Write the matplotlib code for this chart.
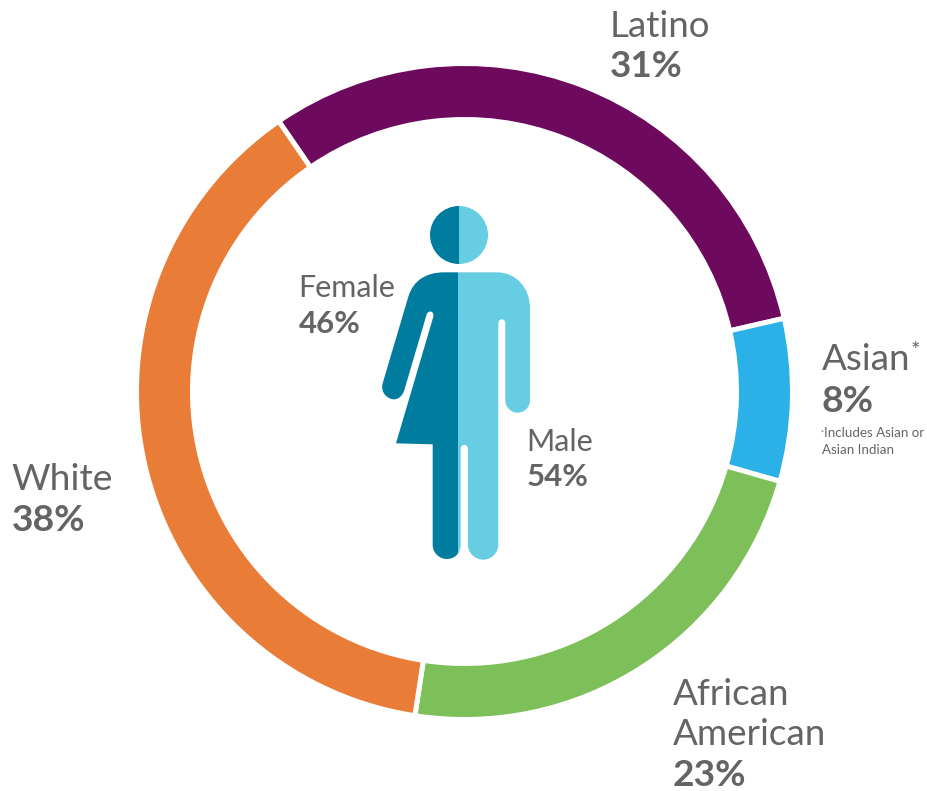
import matplotlib.pyplot as plt
from matplotlib.patches import PathPatch, Wedge
from matplotlib.path import Path

plt.rcParams['font.family'] = ['Lato', 'DejaVu Sans']

race_labels = ['Latino', 'Asian', 'African', 'American', 'White']
race_values = [31, 8, 23, 38]
race_colors = ['#6d0a5e', '#2bb1e7', '#7dc05a', '#e97d37']
gender_labels = ['Female', 'Male']
gender_values = [46, 54]
gender_colors = ['#007c9e', '#66cde2']
GREY = '#636466'

fig = plt.figure(figsize=(9.27, 7.91), dpi=100)
ax = fig.add_axes([0, 0, 1, 1])

ax.pie(race_values, startangle=124.5, counterclock=False, colors=race_colors, center=(464.5, 399.5),
       radius=328, wedgeprops={'width': 56, 'edgecolor': 'white', 'linewidth': 3.6})
ax.set_xlim(0, 927)
ax.set_ylim(0, 791)
ax.set_aspect('equal')
ax.axis('off')


# icon was measured on a 3x crop starting at (370, 195)
def icon_path(steps):
    verts, codes = [], []
    for code, pts in steps:
        for x, y in pts:
            verts.append((370 + x / 3, 791 - (195 + y / 3)))
            codes.append(code)
    verts.append(verts[0])
    codes.append(Path.CLOSEPOLY)
    return Path(verts, codes)


M, L, C = Path.MOVETO, Path.LINETO, Path.CURVE4

female = icon_path([
    (M, [(264, 232)]), (L, [(222, 232)]),
    (C, [(170, 232), (130, 255), (115, 305)]),
    (L, [(38, 565)]),
    (C, [(30, 595), (55, 613), (72, 613)]),
    (C, [(85, 613), (98, 603), (103, 585)]),
    (L, [(170, 358)]),
    (C, [(175, 345), (193, 347), (190, 365)]),
    (L, [(78, 745)]), (L, [(188, 748)]), (L, [(188, 1050)]),
    (C, [(188, 1075), (210, 1092), (230, 1092)]),
    (C, [(245, 1092), (258, 1085), (264, 1075)]),
])
male = icon_path([
    (M, [(264, 232)]), (L, [(380, 232)]),
    (C, [(440, 232), (480, 280), (480, 340)]),
    (L, [(480, 615)]),
    (C, [(480, 638), (462, 653), (443, 653)]),
    (C, [(424, 653), (406, 638), (406, 615)]),
    (L, [(406, 385)]),
    (C, [(406, 369), (385, 369), (385, 385)]),
    (L, [(385, 1050)]),
    (C, [(385, 1075), (362, 1094), (340, 1094)]),
    (C, [(316, 1094), (294, 1075), (294, 1050)]),
    (L, [(294, 762)]),
    (C, [(294, 746), (272, 746), (272, 762)]),
    (L, [(272, 1050)]),
    (C, [(272, 1062), (268, 1070), (264, 1075)]),
])
ax.add_patch(PathPatch(female, fc=gender_colors[0], ec='none'))
ax.add_patch(PathPatch(male, fc=gender_colors[1], ec='none'))

head_x, head_y = 459, 791 - 235
ax.add_patch(Wedge((head_x, head_y), 29, 90, 270, fc=gender_colors[0], ec='none'))
ax.add_patch(Wedge((head_x, head_y), 29, 270, 90, fc=gender_colors[1], ec='none'))


def name(x, y, s, size):
    ax.text(x, 791 - y, s, fontsize=size, color=GREY, va='baseline')


def pct(x, y, v, size):
    ax.text(x, 791 - y, '%d%%' % v, fontsize=size, color=GREY, fontweight='bold', va='baseline')


name(609.5, 37, race_labels[0], 26.5)
pct(609.5, 77, race_values[0], 26.5)
name(822, 370, race_labels[1], 26.5)
pct(822, 412, race_values[1], 26.8)
ax.text(911, 791 - 351, '*', fontsize=16, color=GREY, va='center')
ax.text(821, 791 - 433, '*', fontsize=5, color=GREY, va='center')
name(824.5, 437, 'Includes Asian or', 9.6)
name(822, 454, 'Asian Indian', 9.6)
name(673, 705, race_labels[2], 26.5)
name(673, 745, race_labels[3], 26.5)
pct(673, 786, race_values[2], 26.8)
name(11.5, 490, race_labels[4], 26.8)
pct(12, 531, race_values[3], 26.8)
name(298, 297, gender_labels[0], 22)
pct(299, 333, gender_values[0], 22.5)
name(526.5, 451, gender_labels[1], 22)
pct(527, 486, gender_values[1], 22.5)

fig.savefig('out.png', dpi=100)
